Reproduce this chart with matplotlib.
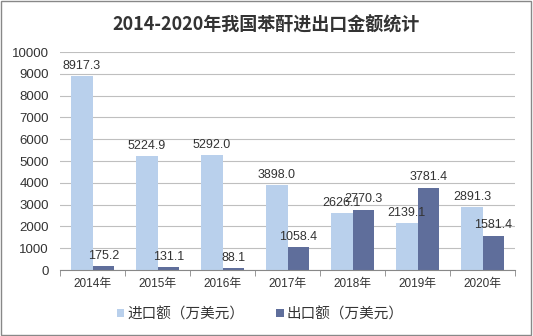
import matplotlib.pyplot as plt
import numpy as np

plt.rcParams['font.family'] = ['Liberation Sans', 'Noto Sans CJK SC', 'DejaVu Sans']

years = ['2014年', '2015年', '2016年', '2017年', '2018年', '2019年', '2020年']
imports = [8917.3, 5224.9, 5292.0, 3898.0, 2626.1, 2139.1, 2891.3]
exports = [175.2, 131.1, 88.1, 1058.4, 2770.3, 3781.4, 1581.4]

c_imp = '#B9D0EC'
c_exp = '#5F6E9B'

fig = plt.figure(figsize=(5.33, 3.36), dpi=100)
ax = fig.add_axes([0.1126, 0.1964, 0.854, 0.6486])

x = np.arange(len(years))
w = 0.33
b1 = ax.bar(x - w / 2, imports, w, color=c_imp, label='进口额（万美元）', zorder=2)
b2 = ax.bar(x + w / 2, exports, w, color=c_exp, label='出口额（万美元）', zorder=2)

for bars, vals in ((b1, imports), (b2, exports)):
    for b, v in zip(bars, vals):
        ax.annotate(f'{v:.1f}', (b.get_x() + b.get_width() / 2, v),
                    xytext=(0, 3), textcoords='offset points',
                    ha='center', va='bottom', fontsize=9, color='#333333')

ax.set_xlim(-0.5, len(years) - 0.5)
ax.set_ylim(0, 10000)
ax.set_yticks(np.arange(0, 10001, 1000))
ax.tick_params(axis='y', length=0, labelsize=9.5, colors='#333333', pad=8)
ax.yaxis.grid(True, color='#BFBFBF', linewidth=0.8, zorder=0)
ax.set_xticks(x)
ax.set_xticklabels(years, fontsize=8.5, color='#333333')
ax.tick_params(axis='x', length=0, pad=6)
ax.set_xticks(np.arange(-0.5, len(years)), minor=True)
ax.tick_params(axis='x', which='minor', length=4, color='#888888')
for s in ['top', 'right', 'left']:
    ax.spines[s].set_visible(False)
ax.spines['bottom'].set_color('#888888')

ax.legend(loc='upper center', bbox_to_anchor=(0.44, -0.11), ncol=2, frameon=False,
          prop={'family': ['Noto Sans CJK SC'], 'size': 10.5},
          handlelength=0.5, handleheight=0.5, handletextpad=0.2,
          columnspacing=2.2, labelcolor='#333333')

fig.suptitle('2014-2020年我国苯酐进出口金额统计', y=0.955, fontsize=13,
             fontweight='bold', color='#333333',
             family=['Noto Sans CJK SC', 'DejaVu Sans'])

fig.patches.append(plt.Rectangle((0.002, 0.003), 0.994, 0.994, transform=fig.transFigure,
                                 fill=False, edgecolor='#888888', linewidth=1))

fig.savefig('out.png', dpi=100)
